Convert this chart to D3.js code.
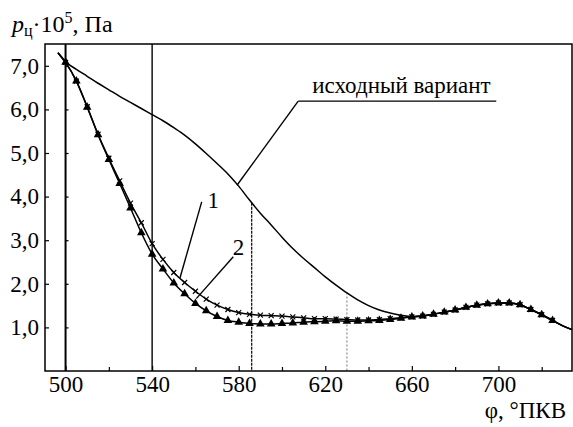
<!DOCTYPE html>
<html>
<head>
<meta charset="utf-8">
<script src="https://cdn.jsdelivr.net/npm/d3@7"></script>
<style>
  body { margin: 0; background: #fff; }
  svg text { font-family: "Liberation Serif", "DejaVu Serif", serif; fill: #000; }
</style>
</head>
<body>
<svg id="chart"></svg>
<script>
// угол, °ПКВ
const phi = [496.5, 500, 505, 510, 515, 520, 525, 530, 535, 540, 545, 550, 555, 560, 565, 570,
  575, 580, 585, 590, 595, 600, 605, 610, 615, 620, 625, 630, 635, 640, 645, 650, 655, 660,
  665, 670, 675, 680, 685, 690, 695, 700, 705, 710, 715, 720, 725, 730, 734];

// исходный вариант
const pBase = [7.30, 7.09, 6.92, 6.76, 6.60, 6.45, 6.30, 6.16, 6.02, 5.88, 5.74, 5.58, 5.41, 5.21, 4.99, 4.76,
  4.52, 4.24, 3.92, 3.62, 3.35, 3.07, 2.81, 2.58, 2.37, 2.16, 1.97, 1.79, 1.63, 1.50, 1.40, 1.33, 1.28, 1.25,
  1.26, 1.30, 1.35, 1.40, 1.46, 1.51, 1.54, 1.56, 1.56, 1.52, 1.41, 1.29, 1.16, 1.03, 0.95];

// вариант 1
const p1 = [7.30, 7.08, 6.65, 6.06, 5.43, 4.88, 4.36, 3.85, 3.40, 2.92, 2.56, 2.26, 2.03, 1.83, 1.65, 1.51,
  1.41, 1.34, 1.30, 1.28, 1.27, 1.26, 1.24, 1.22, 1.20, 1.20, 1.19, 1.18, 1.17, 1.17, 1.18, 1.20, 1.22, 1.24,
  1.26, 1.30, 1.35, 1.40, 1.46, 1.51, 1.54, 1.56, 1.56, 1.52, 1.41, 1.29, 1.16, 1.03, 0.95];

// вариант 2
const p2 = [7.30, 7.08, 6.65, 6.05, 5.42, 4.85, 4.30, 3.74, 3.17, 2.68, 2.34, 2.02, 1.77, 1.55, 1.38, 1.25,
  1.16, 1.12, 1.09, 1.08, 1.08, 1.09, 1.10, 1.12, 1.13, 1.14, 1.15, 1.14, 1.14, 1.15, 1.16, 1.18, 1.21, 1.24,
  1.26, 1.30, 1.35, 1.40, 1.46, 1.51, 1.54, 1.56, 1.56, 1.52, 1.41, 1.29, 1.16, 1.03, 0.95];

const xTickLabels = [500, 540, 580, 620, 660, 700];
const xMinorTicks = [520, 560, 600, 640, 680, 720];
const yTickLabels = [1, 2, 3, 4, 5, 6, 7];
const markLines = [500, 540];

const FONT = '"Liberation Serif", "DejaVu Serif", serif';

class PressureChart {
  constructor() {
    this.width = 573;
    this.height = 427;
    this.margin = { top: 44, right: 1, bottom: 56, left: 45 };
  }

  init() {
    this.svg = d3.select('#chart')
      .attr('width', this.width)
      .attr('height', this.height);

    this.chart = this.svg.append('g')
      .attr('transform', `translate(${this.margin.left}, ${this.margin.top})`);

    this.innerWidth = this.width - this.margin.left - this.margin.right;
    this.innerHeight = this.height - this.margin.top - this.margin.bottom;

    this.xscale = d3.scaleLinear().domain([490.5, 734]).range([0, this.innerWidth]);
    this.yscale = d3.scaleLinear().domain([0, 7.5]).range([this.innerHeight, 0]);

    this.base = phi.map((d, i) => ({ x: d, y: pBase[i] }));
    this.s1 = phi.map((d, i) => ({ x: d, y: p1[i] }));
    this.s2 = phi.map((d, i) => ({ x: d, y: p2[i] }));

    this.drawAxes();
    this.render();
    this.drawLabels();
  }

  drawAxes() {
    const x = this.xscale, y = this.yscale;
    const comma = d => d3.format('.1f')(d).replace('.', ',');

    // вертикальные линии
    this.chart.selectAll('.vline').data(markLines).enter().append('line')
      .attr('x1', d => x(d)).attr('x2', d => x(d))
      .attr('y1', 0).attr('y2', this.innerHeight)
      .attr('stroke', '#000').attr('stroke-width', d => d === 500 ? 2 : 1.4);

    // линия 586 от кривой вниз
    const top586 = d3.interpolateNumber(pBase[18], pBase[19])(0.2);
    this.chart.append('line')
      .attr('x1', x(586)).attr('x2', x(586))
      .attr('y1', y(top586)).attr('y2', this.innerHeight)
      .attr('stroke', '#000').attr('stroke-width', 1.2)
      .attr('stroke-dasharray', '3,1');

    this.chart.append('line')
      .attr('x1', x(630)).attr('x2', x(630))
      .attr('y1', y(1.8)).attr('y2', this.innerHeight)
      .attr('stroke', '#555').attr('stroke-width', 0.8)
      .attr('stroke-dasharray', '2,2');

    const xaxis = this.chart.append('g')
      .attr('transform', `translate(0, ${this.innerHeight})`)
      .call(d3.axisBottom(x).tickValues(xTickLabels).tickSizeInner(-5).tickSizeOuter(0).tickPadding(5));
    const xminor = this.chart.append('g')
      .attr('transform', `translate(0, ${this.innerHeight})`)
      .call(d3.axisBottom(x).tickValues(xMinorTicks).tickSizeInner(-4).tickSizeOuter(0).tickFormat(''));

    const yaxis = this.chart.append('g')
      .call(d3.axisLeft(y).tickValues(yTickLabels).tickSizeInner(-4).tickSizeOuter(0).tickPadding(6).tickFormat(comma));
    const ymid = this.chart.append('g')
      .attr('transform', `translate(${x(500)}, 0)`)
      .call(d3.axisRight(y).tickValues(yTickLabels).tickSizeInner(3).tickSizeOuter(0).tickFormat(''));

    [xaxis, xminor, yaxis, ymid].forEach(g => {
      g.attr('font-family', FONT).attr('font-size', 23);
      g.select('.domain').remove();
      g.selectAll('line').attr('stroke', '#000').attr('stroke-width', 1.2);
    });

    // рамка
    this.chart.append('rect')
      .attr('width', this.innerWidth).attr('height', this.innerHeight)
      .attr('fill', 'none').attr('stroke', '#000').attr('stroke-width', 1.5);
  }

  render() {
    const x = this.xscale, y = this.yscale;
    const line = d3.line().x(d => x(d.x)).y(d => y(d.y)).curve(d3.curveMonotoneX);

    [this.base, this.s1, this.s2].forEach(s => {
      this.chart.append('path').datum(s)
        .attr('d', line)
        .attr('fill', 'none').attr('stroke', '#000').attr('stroke-width', 1.5);
    });

    const marks = s => s.filter(d => d.x >= 500 && d.x <= 725 && d.x % 5 === 0);

    // крестики на кривой 1
    this.chart.selectAll('.m1').data(marks(this.s1)).enter().append('path')
      .attr('transform', d => `translate(${x(d.x)}, ${y(d.y)})`)
      .attr('d', 'M-2.5,-2.5L2.5,2.5M-2.5,2.5L2.5,-2.5')
      .attr('stroke', '#000').attr('stroke-width', 1.2);

    // треугольники на кривой 2
    this.chart.selectAll('.m2').data(marks(this.s2)).enter().append('path')
      .attr('transform', d => `translate(${x(d.x)}, ${y(d.y)})`)
      .attr('d', d3.symbol().type(d3.symbolTriangle).size(32))
      .attr('fill', '#000');
  }

  drawLabels() {
    const x = this.xscale, y = this.yscale;
    const ln = (x1, y1, x2, y2) => this.chart.append('line')
      .attr('x1', x(x1)).attr('y1', y(y1)).attr('x2', x(x2)).attr('y2', y(y2))
      .attr('stroke', '#000').attr('stroke-width', 1.4);
    const txt = (sel, px, py) => sel.append('text')
      .attr('x', px).attr('y', py)
      .attr('font-family', FONT).attr('font-size', 23);

    txt(this.chart, x(614), y(6.37)).text('исходный вариант');
    ln(607.5, 6.19, 699, 6.19);
    ln(607.5, 6.19, 579.2, 4.26);

    txt(this.chart, x(565.6), y(3.74)).text('1');
    ln(562.9, 3.88, 552.9, 2.14);

    txt(this.chart, x(577.2), y(2.66)).text('2');
    ln(577.5, 2.62, 560.4, 1.66);

    // подписи осей
    const yt = txt(this.svg, 12, 32).attr('font-size', 24);
    yt.append('tspan').attr('font-style', 'italic').text('p');
    yt.append('tspan').attr('font-size', 16).attr('dy', 4).text('ц');
    yt.append('tspan').attr('dy', -4).text('·10');
    yt.append('tspan').attr('font-size', 16).attr('dy', -9).text('5');
    yt.append('tspan').attr('dy', 9).text(', Па');

    txt(this.svg, 566, 418).attr('text-anchor', 'end').text('φ, °ПКВ');
  }
}

const chart = new PressureChart();
chart.init();
</script>
</body>
</html>
